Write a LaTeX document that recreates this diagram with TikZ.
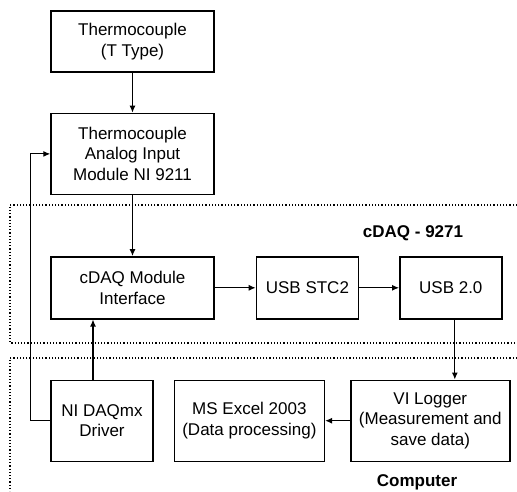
\documentclass[tikz,border=0pt]{standalone}
\usepackage{fontspec}
\setmainfont{Liberation Sans}
\usepackage{tikz}
\usetikzlibrary{arrows.meta,calc,positioning}

\begin{document}
\begin{tikzpicture}[>={Latex[length=3.5pt,width=3pt]}, every node/.style={font=\fontsize{8.5}{10.2}\selectfont}]
    \tikzstyle{blk}=[draw, line width=0.7pt, minimum height=31pt, align=center, inner sep=2pt]
    \tikzstyle{frame}=[densely dotted, line width=0.6pt]
    \tikzstyle{lbl}=[font=\fontsize{8.5}{10.2}\selectfont\bfseries]
    \useasboundingbox (0,0) rectangle (258.5pt,-245.5pt);

    \node[blk, minimum width=81.5pt, minimum height=30.5pt] (tc) at (66.25pt,-20.75pt) {Thermocouple\\(T Type)};
    \node[blk, minimum width=81.5pt, minimum height=40.5pt, below=20pt of tc] (ai) {Thermocouple\\Analog Input\\Module NI 9211};
    \node[blk, minimum width=81.5pt, below=30.5pt of ai] (mod) {cDAQ Module\\Interface};
    \node[blk, minimum width=51pt, right=20.5pt of mod] (stc) {USB STC2};
    \node[blk, minimum width=51pt, right=20pt of stc] (usb) {USB 2.0};
    \node[blk, minimum width=51pt, minimum height=40.5pt, below=30pt of mod.south west, anchor=north west] (drv) {NI DAQmx\\Driver};
    \node[blk, minimum width=75pt, minimum height=40.5pt, right=10pt of drv] (xls) {MS Excel 2003\\(Data processing)};
    \node[blk, minimum width=79.5pt, minimum height=40.5pt, right=12.5pt of xls] (vil) {VI Logger\\(Measurement and\\save data)};

    \node[lbl] (cdaq) at (206.5pt,-116.5pt) {cDAQ - 9271};
    \node[lbl] (pc) at (208.5pt,-241pt) {Computer};

    % dotted frames
    \draw[frame] (258.5pt,-102.5pt) -- (5pt,-102.5pt) -- (5pt,-171.5pt) -- (258.5pt,-171.5pt);
    \draw[frame] (258.5pt,-179pt) -- (5pt,-179pt) -- (5pt,-245.5pt);

    \draw[->, line width=0.6pt] (tc) -- (ai);
    \draw[->, line width=0.6pt] (ai) -- (mod);
    \draw[->, line width=0.6pt] (mod) -- (stc);
    \draw[->, line width=0.6pt] (stc) -- (usb);
    \draw[->, line width=0.6pt] ([xshift=2pt]usb.south) -- ([xshift=2pt]usb.south |- vil.north);
    \draw[->, line width=0.6pt] (vil) -- (xls);
    \draw[->, line width=0.6pt] ([xshift=-4.5pt]drv.north) -- ([xshift=-4.5pt]drv.north |- mod.south);
    \draw[->, line width=0.6pt] (drv.west) -- ++(-9.75pt,0) |- (ai.west);
\end{tikzpicture}
\end{document}
